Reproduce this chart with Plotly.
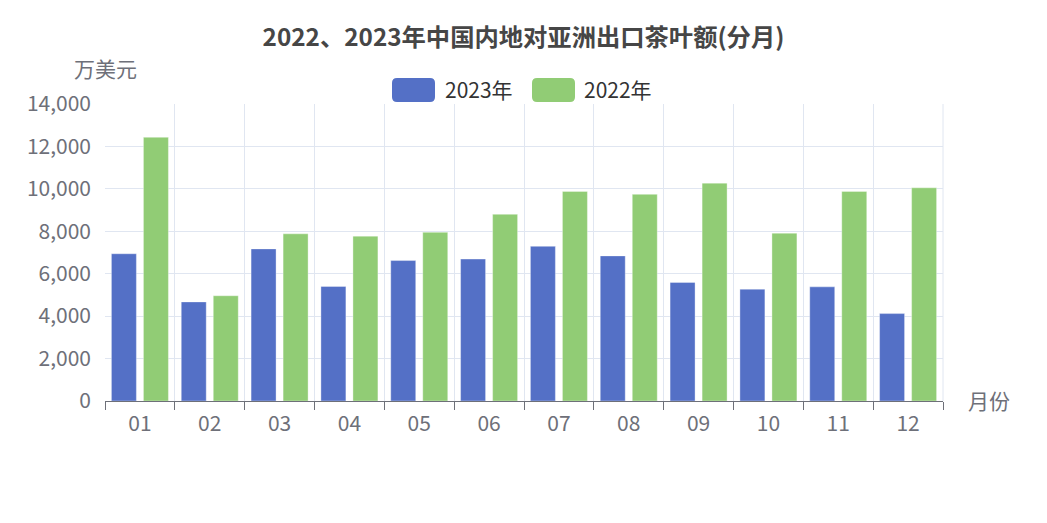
import plotly.graph_objects as go

months = ["01", "02", "03", "04", "05", "06", "07", "08", "09", "10", "11", "12"]
values_2023 = [6940, 4670, 7170, 5400, 6620, 6690, 7290, 6840, 5590, 5270, 5380, 4120]
values_2022 = [12430, 4960, 7880, 7770, 7950, 8800, 9880, 9740, 10270, 7910, 9880, 10050]
y_ticks = [0, 2000, 4000, 6000, 8000, 10000, 12000, 14000]
series_names = ["2023年", "2022年"]
series_colors = ["#5470c6", "#91cc75"]

FONT = "Noto Sans CJK SC"
GRAY = "#6e7079"
W, H = 1047, 523
L, R, T, B = 105, 104, 104, 122
PW, PH = W - L - R, H - T - B

fig = go.Figure()
for name, vals, col in zip(series_names, [values_2023, values_2022], series_colors):
    fig.add_trace(go.Bar(name=name, x=months, y=vals, showlegend=False,
                         marker=dict(color=col, line=dict(color="rgba(255,255,255,0.35)", width=1))))

fig.update_layout(
    width=W, height=H,
    margin=dict(l=L, r=R, t=T, b=B, pad=0),
    paper_bgcolor="white", plot_bgcolor="white",
    barmode="group", bargap=0.083, bargroupgap=0.22,
    font=dict(family=FONT, color=GRAY, size=21),
    title=dict(text="<b>2022、2023年中国内地对亚洲出口茶叶额(分月)</b>",
               x=0.5, xanchor="center", y=1 - 37 / H, yanchor="middle",
               xref="container", yref="container",
               font=dict(family=FONT, size=24.3, color="#464646")),
    showlegend=False,
)
fig.update_xaxes(
    type="category", tickson="boundaries",
    showgrid=True, gridcolor="#e0e6f1", gridwidth=1,
    showline=True, linecolor=GRAY, linewidth=1,
    ticks="outside", ticklen=8, tickcolor=GRAY, ticklabelstandoff=4,
    tickfont=dict(family=FONT, size=21, color=GRAY),
    zeroline=False,
)
fig.update_yaxes(
    range=[0, 14000], tickvals=y_ticks, tickformat=",",
    showgrid=True, gridcolor="#e0e6f1", gridwidth=1,
    showline=False, zeroline=False, ticks="", ticklabelstandoff=13,
    tickfont=dict(family=FONT, size=21, color=GRAY),
)
# right boundary grid line
fig.add_shape(type="line", xref="paper", yref="paper", x0=1, x1=1, y0=0, y1=1,
              line=dict(color="#e0e6f1", width=1), layer="below")


def px_x(px):
    return (px - L) / PW


def px_y(py):
    return 1 - (py - T) / PH


def rounded_rect(x0p, y0p, x1p, y1p, r):
    # pixel coords in, paper coords out
    pts = []
    X = px_x
    Y = px_y
    return (f"M{X(x0p + r)},{Y(y0p)} L{X(x1p - r)},{Y(y0p)} Q{X(x1p)},{Y(y0p)} {X(x1p)},{Y(y0p + r)} "
            f"L{X(x1p)},{Y(y1p - r)} Q{X(x1p)},{Y(y1p)} {X(x1p - r)},{Y(y1p)} "
            f"L{X(x0p + r)},{Y(y1p)} Q{X(x0p)},{Y(y1p)} {X(x0p)},{Y(y1p - r)} "
            f"L{X(x0p)},{Y(y0p + r)} Q{X(x0p)},{Y(y0p)} {X(x0p + r)},{Y(y0p)} Z")


legend_box_x = [392, 532]
legend_text_x = [445, 584]
for bx, tx, name, col in zip(legend_box_x, legend_text_x, series_names, series_colors):
    fig.add_shape(type="path", xref="paper", yref="paper",
                  path=rounded_rect(bx, 78, bx + 43, 102, 5),
                  fillcolor=col, line=dict(width=0))
    fig.add_annotation(text=name, xref="paper", yref="paper", x=px_x(tx - 2), y=px_y(89),
                       xanchor="left", yanchor="middle", showarrow=False,
                       font=dict(family=FONT, size=21, color="#333333"))

fig.add_annotation(text="万美元", xref="paper", yref="paper", x=0, y=px_y(68),
                   xanchor="center", yanchor="middle", showarrow=False,
                   font=dict(family=FONT, size=21, color=GRAY))
fig.add_annotation(text="月份", xref="paper", yref="paper", x=px_x(966), y=px_y(400),
                   xanchor="left", yanchor="middle", showarrow=False,
                   font=dict(family=FONT, size=21, color=GRAY))

fig.write_html("out.html")
